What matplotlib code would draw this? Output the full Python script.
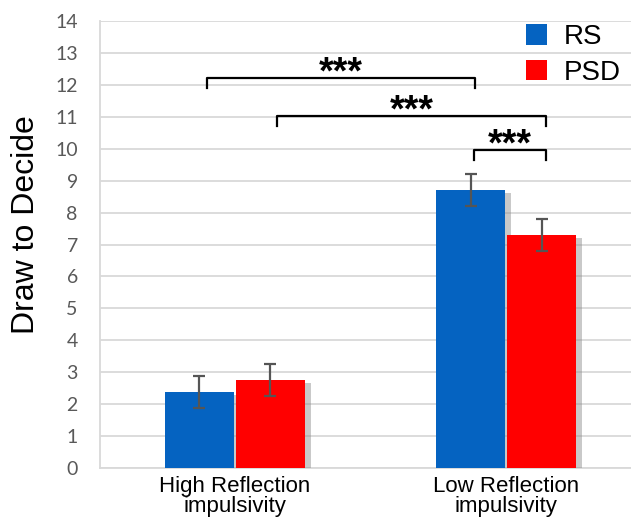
import matplotlib
matplotlib.use("Agg")
import matplotlib.pyplot as plt
import matplotlib.patheffects as pe
import numpy as np

categories = ["High Reflection\nimpulsivity", "Low Reflection\nimpulsivity"]
series_names = ["RS", "PSD"]
rs_values = [2.38, 8.70]
psd_values = [2.76, 7.30]
rs_err = [0.50, 0.50]
psd_err = [0.50, 0.50]
colors = ["#0563C1", "#FF0000"]
yticks = list(range(0, 15))

# significance brackets: (x_left, x_right, y, label)
brackets = [(-0.103, 0.886, 12.2, "***"),
            (0.155, 1.148, 11.02, "***"),
            (0.882, 1.148, 9.96, "***")]

plt.rcParams['font.family'] = ['Liberation Sans', 'DejaVu Sans']

fig = plt.figure(figsize=(6.31, 5.18), dpi=100)
ax = fig.add_axes([100/631, (518-468)/518, 531/631, (468-21)/518])

x = np.arange(len(categories))
w = 0.255
off = 0.131
shadow = [pe.SimplePatchShadow(offset=(4, -2), shadow_rgbFace="#888888", alpha=0.45), pe.Normal()]
b1 = ax.bar(x - off, rs_values, w, color=colors[0], label=series_names[0], zorder=3,
            edgecolor="none", path_effects=shadow)
b2 = ax.bar(x + off, psd_values, w, color=colors[1], label=series_names[1], zorder=3,
            edgecolor="none", path_effects=shadow)
ax.errorbar(x - off, rs_values, yerr=rs_err, fmt="none", ecolor="#555555", elinewidth=1.6,
            capsize=4.5, capthick=1.6, zorder=4)
ax.errorbar(x + off, psd_values, yerr=psd_err, fmt="none", ecolor="#555555", elinewidth=1.6,
            capsize=4.5, capthick=1.6, zorder=4)

ax.set_xlim(-0.498, 1.461)
ax.set_ylim(0, 14)
ax.set_yticks(yticks)
ax.set_xticks(x)
ax.set_xticklabels(categories, fontsize=16, linespacing=0.93)
ax.tick_params(axis="y", length=0, pad=16)
for lbl in ax.get_yticklabels():
    lbl.set_family(["Lato", "DejaVu Sans"])
    lbl.set_fontsize(14)
    lbl.set_color("#595959")
ax.tick_params(axis="x", length=0, pad=6)
ax.grid(axis="y", color="#D9D9D9", linewidth=1.3, zorder=0)
ax.set_axisbelow(True)
for s in ["top", "right"]:
    ax.spines[s].set_visible(False)
ax.spines["left"].set_color("#D9D9D9")
ax.spines["bottom"].set_color("#D9D9D9")
ax.spines["left"].set_linewidth(1.3)
ax.spines["bottom"].set_linewidth(1.3)
ax.set_ylabel("Draw to Decide", fontsize=23)
ax.yaxis.set_label_coords(-0.111, 0.544)

for xl, xr, y, lab in brackets:
    ax.plot([xl, xl, xr, xr], [y - 0.3, y, y, y - 0.3], color="black", lw=1.6,
            zorder=5, clip_on=False)
    ax.text((xl + xr) / 2, y - 0.17, lab, ha="center", va="baseline", fontsize=27,
            fontweight="bold")

leg = ax.legend(loc="upper right", bbox_to_anchor=(1.012, 1.03), frameon=False,
                fontsize=20, handlelength=0.75, handleheight=0.75, handletextpad=0.6,
                labelspacing=0.35, borderaxespad=0.2)
for h in leg.legend_handles:
    h.set_path_effects([])

fig.savefig("out.png", dpi=100)
